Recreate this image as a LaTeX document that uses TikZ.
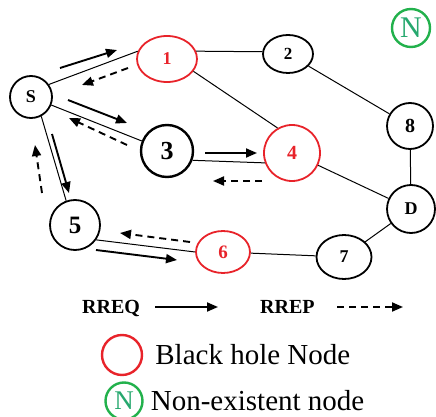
\documentclass[tikz,border=0pt]{standalone}
\usepackage{fontspec}
\setmainfont{Liberation Serif}
\usetikzlibrary{arrows.meta,positioning,shapes.geometric}
\definecolor{BHRed}{HTML}{E8232A}
\definecolor{NEGreen}{HTML}{22B14C}
\definecolor{NEText}{HTML}{26A86E}

\begin{document}
\begin{tikzpicture}[
    x=1pt, y=-1pt,
    nd/.style={draw=black, line width=1.8pt, circle, inner sep=0pt, font=\bfseries\fontsize{18}{18}\selectfont},
    ov/.style={nd, ellipse},
    bh/.style={draw=BHRed, text=BHRed},
    ne/.style={draw=NEGreen, line width=2.4pt, circle, inner sep=0pt, text=NEText, font=\fontsize{30}{30}\selectfont},
    link/.style={line width=1pt, draw=black},
    req/.style={-{Triangle[length=11pt,width=9pt]}, line width=1.9pt},
    rep/.style={req, dash pattern=on 7pt off 5pt},
    keytxt/.style={font=\bfseries\fontsize{20}{20}\selectfont, inner sep=0pt, anchor=base west},
    legtxt/.style={font=\fontsize{29}{30}\selectfont, inner sep=0pt}
  ]
    \useasboundingbox (0,0) rectangle (436,417);

    \node[nd, minimum size=42pt] (S) at (31,97) {S};
    \node[ov, bh, minimum width=60pt, minimum height=46pt] (n1) at (167,59) {1};
    \node[ov, minimum width=50pt, minimum height=38pt, font=\bfseries\fontsize{17}{17}\selectfont] (n2) at (288,54) {2};
    \node[nd, minimum size=52pt, line width=2.4pt, font=\bfseries\fontsize{26}{26}\selectfont] (n3) at (167,151) {3};
    \node[nd, bh, minimum size=56pt, font=\bfseries\fontsize{20}{20}\selectfont] (n4) at (292,153) {4};
    \node[nd, minimum size=50pt, font=\bfseries\fontsize{25}{25}\selectfont] (n5) at (75,225) {5};
    \node[ov, bh, minimum width=54pt, minimum height=42pt, font=\bfseries\fontsize{19}{19}\selectfont] (n6) at (223,252) {6};
    \node[ov, minimum width=55pt, minimum height=44pt] (n7) at (344,257) {7};
    \node[nd, minimum size=46pt, font=\bfseries\fontsize{20}{20}\selectfont] (n8) at (410,126) {8};
    \node[nd, minimum size=48pt] (D) at (411,209) {D};
    \node[ne, minimum size=38pt] (N) at (411,28) {N};

    \draw[link] (S.35) -- (n1.165);
    \draw[link] (n1.15) -- (n2.175);
    \draw[link] (n1.-25) -- (n4.120);
    \draw[link] (n2) -- (n8);
    \draw[link] (n8) -- (D);
    \draw[link] (n4) -- (D);
    \draw[link] (D) -- (n7);
    \draw[link] (n6) -- (n7);
    \draw[link] (n5.-35) -- (n6.west);
    \draw[link] (S.-62) -- (n5.110);
    \draw[link] (S) -- (n3);
    \draw[link] (n3.-20) -- (n4.200);

    \coordinate (q1a) at (60,68);   \coordinate (q1b) at (117,50);
    \coordinate (p1a) at (128,68);  \coordinate (p1b) at (82,85);
    \coordinate (q3a) at (68,100);  \coordinate (q3b) at (127,123);
    \coordinate (p3a) at (127,145); \coordinate (p3b) at (69,118);
    \coordinate (q5a) at (52,134);  \coordinate (q5b) at (69,193);
    \coordinate (p5a) at (42,193);  \coordinate (p5b) at (35,145);
    \coordinate (q4a) at (205,153); \coordinate (q4b) at (257,153);
    \coordinate (p4a) at (262,181); \coordinate (p4b) at (213,181);
    \coordinate (q6a) at (96,250);  \coordinate (q6b) at (177,260);
    \coordinate (p6a) at (190,242); \coordinate (p6b) at (120,233);

    \draw[req] (q1a) -- (q1b);
    \draw[rep] (p1a) -- (p1b);
    \draw[req] (q3a) -- (q3b);
    \draw[rep] (p3a) -- (p3b);
    \draw[req] (q5a) -- (q5b);
    \draw[rep] (p5a) -- (p5b);
    \draw[req] (q4a) -- (q4b);
    \draw[rep] (p4a) -- (p4b);
    \draw[req] (q6a) -- (q6b);
    \draw[rep] (p6a) -- (p6b);

    \node[keytxt] (rreq) at (82,313) {RREQ};
    \node[keytxt] (rrep) at (260,313) {RREP};
    \coordinate (kqa) at (155,307); \coordinate (kqb) at (218,307);
    \coordinate (kpa) at (337,307); \coordinate (kpb) at (403,307);
    \draw[req] (kqa) -- (kqb);
    \draw[rep] (kpa) -- (kpb);

    \node[draw=BHRed, line width=2.4pt, circle, minimum size=40pt] (lgred) at (122,355) {};
    \node[legtxt, right=12pt of lgred] (lgbh) {Black hole Node};
    \node[ne, minimum size=37pt, font=\fontsize{27}{27}\selectfont] (lggreen) at (124,401) {N};
    \node[legtxt, right=7pt of lggreen] (lgne) {Non-existent node};
  \end{tikzpicture}
\end{document}
